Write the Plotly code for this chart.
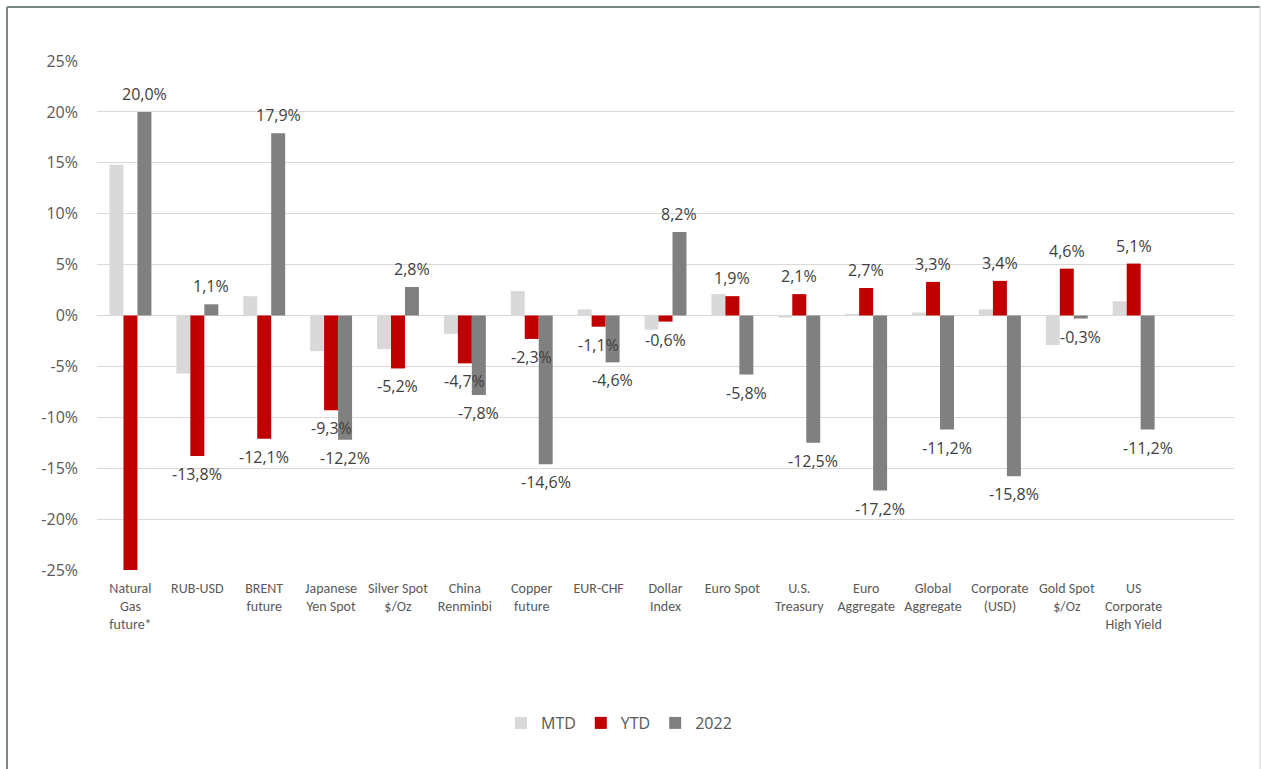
import plotly.graph_objects as go

categories = ["Natural<br>Gas<br>future*", "RUB-USD", "BRENT<br>future", "Japanese<br>Yen Spot",
              "Silver Spot<br>$/Oz", "China<br>Renminbi", "Copper<br>future", "EUR-CHF",
              "Dollar<br>Index", "Euro Spot", "U.S.<br>Treasury", "Euro<br>Aggregate",
              "Global<br>Aggregate", "Corporate<br>(USD)", "Gold Spot<br>$/Oz", "US<br>Corporate<br>High Yield"]
mtd = [14.8, -5.7, 1.9, -3.5, -3.3, -1.8, 2.4, 0.6, -1.4, 2.1, -0.2, 0.1, 0.3, 0.6, -2.9, 1.4]
ytd = [-35.0, -13.8, -12.1, -9.3, -5.2, -4.7, -2.3, -1.1, -0.6, 1.9, 2.1, 2.7, 3.3, 3.4, 4.6, 5.1]
y2022 = [20.0, 1.1, 17.9, -12.2, 2.8, -7.8, -14.6, -4.6, 8.2, -5.8, -12.5, -17.2, -11.2, -15.8, -0.3, -11.2]
tick_vals = [-25, -20, -15, -10, -5, 0, 5, 10, 15, 20, 25]
tick_text = [f"{v}%" for v in tick_vals]
series_names = ["MTD", "YTD", "2022"]
colors = ["#D9D9D9", "#C00000", "#808080"]

Y_MIN, Y_MAX = -25, 25
N_SLOTS = 17  # the original chart keeps one empty slot on the right

BAR_W = 0.209
offsets = [-1.5 * BAR_W, -0.5 * BAR_W, 0.5 * BAR_W]

W, H = 1261, 769
ML, MR, MT, MB = 97, 27, 61, 199
PW, PH = W - ML - MR, H - MT - MB


def px(x):
    return (x - ML) / PW


def py(y):
    return (H - MB - y) / PH


fig = go.Figure()
for name, vals, col, off in zip(series_names, [mtd, ytd, y2022], colors, offsets):
    fig.add_trace(go.Bar(x=categories, y=vals, name=name, marker_color=col,
                         marker_line_width=0, width=BAR_W, offset=off, cliponaxis=True))

label_font = dict(family="Open Sans, Liberation Sans, sans-serif", size=16, color="#404040")
annotations = []
for vals, off in [(ytd, offsets[1]), (y2022, offsets[2])]:
    for i, v in enumerate(vals):
        if v < Y_MIN or v > Y_MAX:
            continue
        annotations.append(dict(
            x=i + off + BAR_W / 2, y=v, xref="x", yref="y",
            text=f"{v:.1f}%".replace(".", ","), showarrow=False,
            yanchor="bottom" if v >= 0 else "top",
            yshift=5 if v >= 0 else -5,
            font=label_font))

fig.update_layout(
    width=W, height=H,
    margin=dict(l=ML, r=MR, t=MT, b=MB, pad=0),
    paper_bgcolor="white", plot_bgcolor="white",
    barmode="overlay",
    font=dict(family="Open Sans, Liberation Sans, sans-serif", color="#595959"),
    showlegend=True,
    legend=dict(orientation="h", x=px(619), xanchor="center", y=py(723), yanchor="middle",
                font=dict(size=16, color="#595959"), itemwidth=30, traceorder="normal"),
    xaxis=dict(type="category", range=[-0.5, N_SLOTS - 0.5], showgrid=False, showline=False,
               ticks="",
               tickfont=dict(family="Liberation Sans Narrow, Carlito, Liberation Sans, sans-serif",
                             size=14, color="#595959"),
               tickangle=0, ticklabelstandoff=8),
    yaxis=dict(range=[Y_MIN, Y_MAX], tickvals=tick_vals, ticktext=tick_text,
               showgrid=True, gridcolor="#D9D9D9", gridwidth=1,
               zeroline=True, zerolinecolor="#D9D9D9", zerolinewidth=1,
               showline=False, ticks="", ticklabelstandoff=18,
               tickfont=dict(size=16, color="#595959")),
    annotations=annotations,
    shapes=[
        dict(type="line", xref="paper", yref="paper", x0=px(7), x1=px(7), y0=py(7), y1=py(769),
             line=dict(color="#7A8787", width=2)),
        dict(type="line", xref="paper", yref="paper", x0=px(7), x1=px(1260), y0=py(7), y1=py(7),
             line=dict(color="#7A8787", width=2)),
        dict(type="line", xref="paper", yref="paper", x0=px(1260), x1=px(1260), y0=py(7), y1=py(769),
             line=dict(color="#D0D0D0", width=1)),
    ],
)

fig.write_html("out.html")
